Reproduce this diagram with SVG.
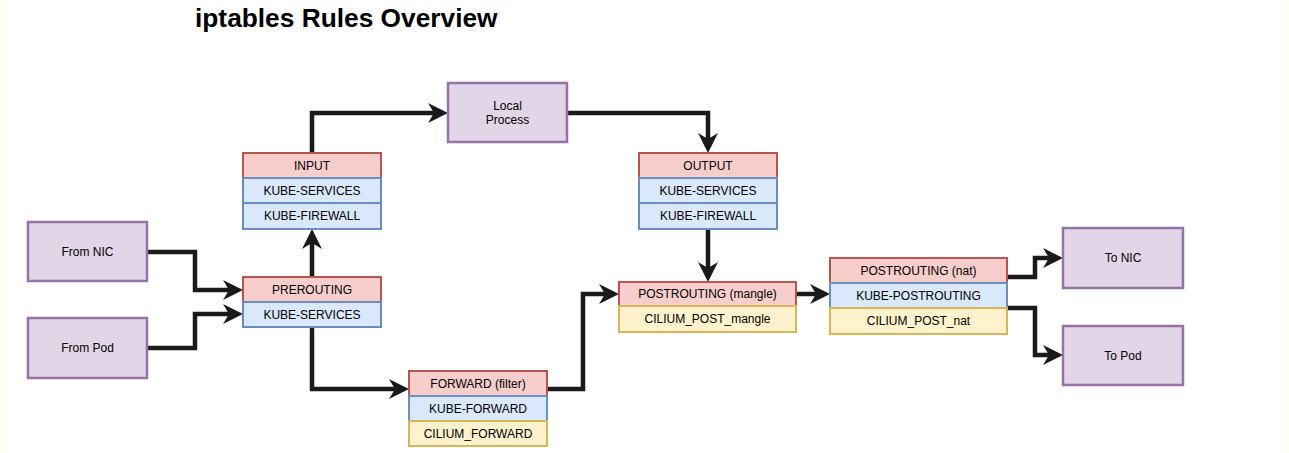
<svg xmlns="http://www.w3.org/2000/svg" width="1289" height="453" viewBox="0 0 1289 453">
<defs>
<style>
.bg{fill:#ffffff}
.edge{fill:#fffff2}
.title{font-family:"Liberation Sans",Arial,sans-serif;font-size:26.3px;font-weight:bold;fill:#000}
.t{font-family:"Liberation Sans",Arial,sans-serif;font-size:12px;fill:#000;text-anchor:middle;dominant-baseline:central}
.p{fill:#e1d5e7;stroke:#9673a6;stroke-width:2.5}
.r{fill:#f8cecc;stroke:#b85450;stroke-width:2}
.b{fill:#dae8fc;stroke:#6c8ebf;stroke-width:2}
.y{fill:#fff2cc;stroke:#d6b656;stroke-width:2}
.c{fill:none;stroke:#1a1a1a;stroke-width:4.5;stroke-linejoin:miter;marker-end:url(#ah)}
</style>
<marker id="ah" markerUnits="userSpaceOnUse" markerWidth="22" markerHeight="22" viewBox="0 0 22 22" refX="10" refY="11" orient="auto">
<path d="M0,1 L20,11 L0,21 L6,11 Z" fill="#1a1a1a"/>
</marker>
</defs>
<rect class="bg" x="0" y="0" width="1289" height="453"/>
<rect class="edge" x="0" y="0" width="5" height="453"/>
<rect class="edge" x="1283" y="0" width="6" height="453"/>
<text class="title" x="195" y="27">iptables Rules Overview</text>

<g id="connectors">
<path class="c" d="M147,252 H195 V290 H233"/>
<path class="c" d="M147,348 H195 V314 H233"/>
<path class="c" d="M312,277 V239"/>
<path class="c" d="M312,153 V113 H438"/>
<path class="c" d="M567,113 H708 V143"/>
<path class="c" d="M708,229 V272"/>
<path class="c" d="M312,327 V389 H399"/>
<path class="c" d="M547,389 H583 V294 H609"/>
<path class="c" d="M796,294 H820"/>
<path class="c" d="M1007,277 H1035 V258 H1053"/>
<path class="c" d="M1007,308 H1035 V355 H1053"/>
</g>

<g id="from-nic">
<rect class="p" x="28" y="222" width="119" height="59"/>
<text class="t" x="87.5" y="251.5">From NIC</text>
</g>
<g id="from-pod">
<rect class="p" x="28" y="318" width="119" height="60"/>
<text class="t" x="87.5" y="348">From Pod</text>
</g>

<g id="input">
<rect class="r" x="243" y="153" width="138" height="25"/>
<text class="t" x="312" y="165.5">INPUT</text>
<rect class="b" x="243" y="178" width="138" height="25"/>
<text class="t" x="312" y="190.5">KUBE-SERVICES</text>
<rect class="b" x="243" y="203" width="138" height="26"/>
<text class="t" x="312" y="216">KUBE-FIREWALL</text>
</g>

<g id="prerouting">
<rect class="r" x="243" y="277" width="138" height="25"/>
<text class="t" x="312" y="289.5">PREROUTING</text>
<rect class="b" x="243" y="302" width="138" height="25"/>
<text class="t" x="312" y="314.5">KUBE-SERVICES</text>
</g>

<g id="local-process">
<rect class="p" x="448" y="83" width="119" height="59"/>
<text class="t" x="507.5" y="106">Local</text>
<text class="t" x="507.5" y="120">Process</text>
</g>

<g id="output">
<rect class="r" x="639" y="153" width="138" height="25"/>
<text class="t" x="708" y="165.5">OUTPUT</text>
<rect class="b" x="639" y="178" width="138" height="25"/>
<text class="t" x="708" y="190.5">KUBE-SERVICES</text>
<rect class="b" x="639" y="203" width="138" height="26"/>
<text class="t" x="708" y="216">KUBE-FIREWALL</text>
</g>

<g id="forward">
<rect class="r" x="409" y="371" width="138" height="25"/>
<text class="t" x="478" y="383.5">FORWARD (filter)</text>
<rect class="b" x="409" y="396" width="138" height="25"/>
<text class="t" x="478" y="408.5">KUBE-FORWARD</text>
<rect class="y" x="409" y="421" width="138" height="25"/>
<text class="t" x="478" y="433.5">CILIUM_FORWARD</text>
</g>

<g id="postrouting-mangle">
<rect class="r" x="619" y="282" width="177" height="24"/>
<text class="t" x="707.5" y="294">POSTROUTING (mangle)</text>
<rect class="y" x="619" y="306" width="177" height="26"/>
<text class="t" x="707.5" y="319">CILIUM_POST_mangle</text>
</g>

<g id="postrouting-nat">
<rect class="r" x="830" y="258" width="177" height="25"/>
<text class="t" x="918.5" y="270.5">POSTROUTING (nat)</text>
<rect class="b" x="830" y="283" width="177" height="25"/>
<text class="t" x="918.5" y="295.5">KUBE-POSTROUTING</text>
<rect class="y" x="830" y="308" width="177" height="26"/>
<text class="t" x="918.5" y="321">CILIUM_POST_nat</text>
</g>

<g id="to-nic">
<rect class="p" x="1063" y="228" width="120" height="60"/>
<text class="t" x="1123" y="258">To NIC</text>
</g>
<g id="to-pod">
<rect class="p" x="1063" y="326" width="120" height="59"/>
<text class="t" x="1123" y="355.5">To Pod</text>
</g>
</svg>
